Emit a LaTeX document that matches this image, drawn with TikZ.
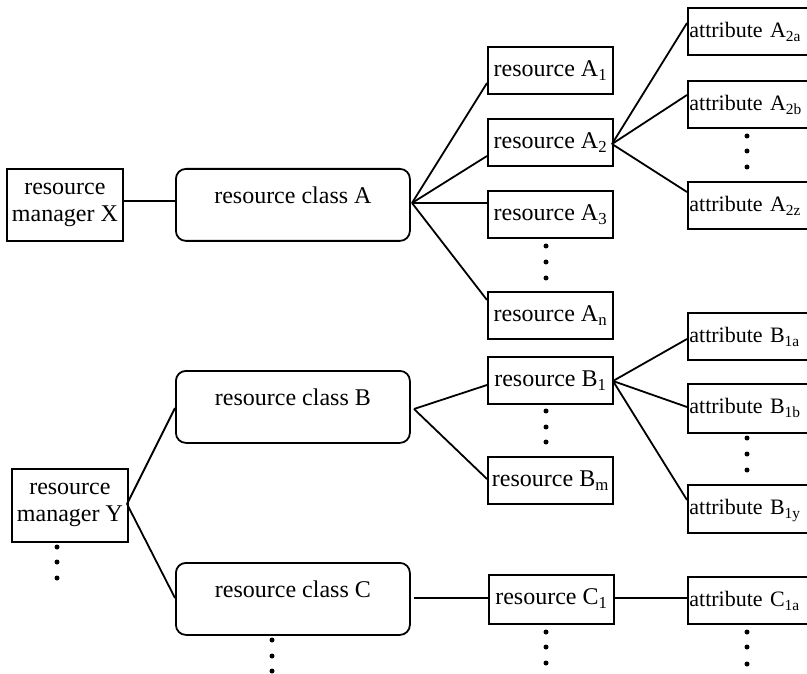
\documentclass[tikz,border=0pt]{standalone}
\usepackage{fontspec}
\setmainfont{Liberation Serif}
\begin{document}
\begin{tikzpicture}[x=1pt,y=-1pt,
  every node/.style={font=\fontsize{24}{27}\selectfont},
  ln/.style={line width=1.8pt},
  mgr/.style={draw,line width=1.8pt,anchor=north west,inner sep=0pt,align=center,minimum width=116pt,minimum height=72pt},
  cls/.style={draw,line width=1.8pt,anchor=north west,inner sep=0pt,rounded corners=10pt,minimum width=234pt,text height=35pt,text depth=37pt},
  res/.style={draw,line width=1.8pt,anchor=north west,inner sep=0pt,minimum width=125pt,text height=30pt,text depth=17pt},
  att/.style={draw,line width=1.8pt,anchor=north west,inner xsep=1.5pt,inner ysep=0pt,text width=140pt,align=left,text height=30pt,text depth=17pt,font=\fontsize{22}{26}\selectfont},
  dotc/.style={circle,fill,inner sep=0pt,minimum size=5pt}
]
\useasboundingbox (0,0) rectangle (807,674);
\clip (0,0) rectangle (807,674);

% managers
\node[mgr] (mX) at (6,168) {resource\\manager X};
\node[mgr,minimum height=73pt] (mY) at (11,468) {resource\\manager Y};

% classes
\node[cls] (cA) at (175,168) {resource class A};
\node[cls] (cB) at (175,370) {resource class B};
\node[cls] (cC) at (175,562) {resource class C};

% resources
\node[res] (rA1) at (487,46) {resource A\textsubscript{1}};
\node[res] (rA2) at (487,118) {resource A\textsubscript{2}};
\node[res] (rA3) at (487,190) {resource A\textsubscript{3}};
\node[res] (rAn) at (487,291) {resource A\textsubscript{n}};
\node[res] (rB1) at (487,356) {resource B\textsubscript{1}};
\node[res] (rBm) at (487,456) {resource B\textsubscript{m}};
\node[res,text depth=19pt] (rC1) at (488,574) {resource C\textsubscript{1}};

% attributes
\node[att] (aA2a) at (687,7) {attribute A\textsubscript{2a}};
\node[att] (aA2b) at (687,80) {attribute A\textsubscript{2b}};
\node[att] (aA2z) at (687,181) {attribute A\textsubscript{2z}};
\node[att] (aB1a) at (687,312) {attribute B\textsubscript{1a}};
\node[att,text depth=19pt] (aB1b) at (687,383) {attribute B\textsubscript{1b}};
\node[att,text depth=18pt] (aB1y) at (687,484) {attribute B\textsubscript{1y}};
\node[att] (aC1a) at (687,576) {attribute C\textsubscript{1a}};

% fan points and line ends
\coordinate (fA) at (412,203);
\coordinate (eA1) at (487,83);
\coordinate (eA2) at (487,156);
\coordinate (eAn) at (487,300);
\coordinate (fA2) at (612,144);
\coordinate (eA2a) at (687,23);
\coordinate (eA2b) at (687,95);
\coordinate (eA2z) at (687,192);
\coordinate (fY) at (127,504);
\coordinate (eYB) at (175,408);
\coordinate (eYC) at (175,598);
\coordinate (fB) at (414,409);
\coordinate (eB1) at (487,385);
\coordinate (eBm) at (487,479);
\coordinate (fB1) at (613,381);
\coordinate (eB1a) at (687,339);
\coordinate (eB1b) at (687,407);
\coordinate (eB1y) at (687,500);
\coordinate (fC) at (414,598);
\coordinate (fC1) at (613,598);

% connectors
\draw[ln] ([yshift=4pt]mX.east) -- ([yshift=4pt]cA.west);
\draw[ln] (fA) -- (eA1);
\draw[ln] (fA) -- (eA2);
\draw[ln] (fA) -- (fA -| rA3.west);
\draw[ln] (fA) -- (eAn);
\draw[ln] (fA2) -- (eA2a);
\draw[ln] (fA2) -- (eA2b);
\draw[ln] (fA2) -- (eA2z);
\draw[ln] (fY) -- (eYB);
\draw[ln] (fY) -- (eYC);
\draw[ln] (fB) -- (eB1);
\draw[ln] (fB) -- (eBm);
\draw[ln] (fB1) -- (eB1a);
\draw[ln] (fB1) -- (eB1b);
\draw[ln] (fB1) -- (eB1y);
\draw[ln] (fC) -- (fC -| rC1.west);
\draw[ln] (fC1) -- (fC1 -| aC1a.west);

% dots
\foreach \x/\a/\b/\c in {546/246/262/278, 747/136/151/167, 546/411/427/442, 747/438/454/470, 57/547/562/578, 272/640/656/671, 546/632/647/663, 747/632/647/664}{
  \node[dotc] at (\x,\a) {};
  \node[dotc] at (\x,\b) {};
  \node[dotc] at (\x,\c) {};
}
\end{tikzpicture}
\end{document}
